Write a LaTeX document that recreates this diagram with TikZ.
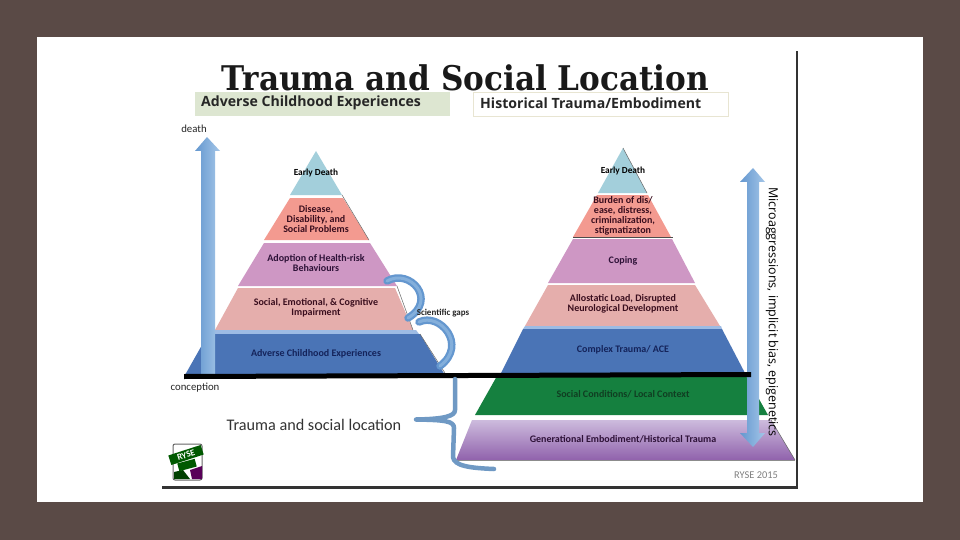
\documentclass[tikz,border=0pt]{standalone}
\usepackage{fontspec}
\setmainfont{Carlito}
\newfontfamily\titlefont{DejaVu Serif}
\newfontfamily\sidefont{Open Sans}
\usetikzlibrary{calc}
\definecolor{bgbrown}{HTML}{5A4A46}
\definecolor{lteal}{HTML}{A3CFDB}
\definecolor{lsalmon}{HTML}{F39A90}
\definecolor{lorchid}{HTML}{CE97C4}
\definecolor{lrose}{HTML}{E5AEAC}
\definecolor{lblue}{HTML}{4A74B6}
\definecolor{lstripe}{HTML}{9DBBE4}
\definecolor{lgreen}{HTML}{15803F}
\definecolor{purtop}{HTML}{CDBBDD}
\definecolor{purbot}{HTML}{9062AC}
\definecolor{arrowd}{HTML}{6497CF}
\definecolor{arrowl}{HTML}{A4C6E8}
\definecolor{bracec}{HTML}{6F99C4}
\definecolor{hdrg}{HTML}{DDE6D1}
\definecolor{hdrb}{HTML}{E8E5D2}
\definecolor{inkm}{HTML}{3A0E1E}
\definecolor{inkp}{HTML}{2E1238}
\definecolor{inkn}{HTML}{14235A}
\definecolor{inkg}{HTML}{103E22}
\definecolor{frame}{HTML}{333333}
\tikzset{
  lbl/.style={align=center,inner sep=0pt,font=\bfseries\fontsize{10}{10.1}\selectfont},
  lblm/.style={lbl,text=inkm},
  lblp/.style={lbl,text=inkp},
  lbln/.style={lbl,text=inkn},
  lblg/.style={lbl,text=inkg},
  small/.style={inner sep=0pt,text=black!85,font=\fontsize{10.8}{12}\selectfont},
  hdr/.style={inner sep=0pt,anchor=west,text=black!85,font=\sidefont\bfseries\fontsize{14.1}{16}\selectfont},
  gapline/.style={line cap=round,line width=7.5pt,draw=arrowd},
  gapinner/.style={line cap=round,line width=3pt,draw=arrowl!50!arrowd},
  bracel/.style={line width=4.5pt,draw=bracec,line cap=round,line join=round},
}
\begin{document}
\begin{tikzpicture}[x=1pt,y=-1pt]
\useasboundingbox (0,0) rectangle (960,540);
\fill[bgbrown] (0,0) rectangle (960,540);
\fill[white] (37,37) rectangle (923,502);
% inner frame
\fill[frame] (796,51) rectangle (798,489);
\fill[frame] (162,486) rectangle (798,489);
% title and headers
\node[inner sep=0pt,anchor=base,text=black!90] (title) at (465.5,91) {\titlefont\bfseries\fontsize{34}{36}\selectfont\scalebox{0.915}[1]{Trauma and Social Location}};
\fill[hdrg] (195,92) rectangle (450,116);
\fill[white,draw=hdrb,line width=.8pt] (473,92) rectangle (728,116);
\node[hdr] (hl) at (201,103) {Adverse Childhood Experiences};
\node[hdr] (hr) at (480,103) {Historical Trauma/Embodiment};
% left pyramid
\fill[lteal] (316,151) -- (342,195) -- (290,195) -- cycle;
\fill[lsalmon] (290,198) -- (343,198) -- (369,240) -- (264,240) -- cycle;
\fill[lorchid] (264,243) -- (370,243) -- (397,286) -- (238,286) -- cycle;
\fill[lrose] (238,288) -- (395,288) -- (413,330) -- (215,330) -- cycle;
\fill[lstripe] (215,330) -- (416,330) -- (419,334) -- (215,334) -- cycle;
\fill[lblue] (215,334) -- (420,334) -- (445,375) -- (185,375) -- (202,345) -- cycle;
\draw[black!60,line width=.5pt] (342,195) -- (369,240) (397,286) -- (413,330) (420,334) -- (445,373);
% right pyramid
\fill[lteal] (623,148) -- (647,193) -- (598,193) -- cycle;
\draw[black!60,line width=.5pt] (623,148) -- (647,193);
\fill[lsalmon] (597,195) -- (648,195) -- (671,237) -- (573,237) -- cycle;
\draw[black!70,line width=.6pt] (573,237.5) -- (673,237.5);
\fill[lorchid] (573,239) -- (672,239) -- (695,283) -- (548,283) -- cycle;
\fill[lrose] (548,285) -- (695,285) -- (720,326) -- (525,326) -- cycle;
\fill[lstripe] (525,326) -- (721,326) -- (722,329) -- (523,329) -- cycle;
\fill[lblue] (523,329) -- (722,329) -- (746,375) -- (500,375) -- cycle;
\fill[lgreen] (497,376) -- (746,376) -- (768,415) -- (475,415) -- cycle;
\shade[top color=purtop,bottom color=purbot] (472,420) -- (771,420) -- (795,460) -- (456,460) -- cycle;
\draw[black!60,line width=.5pt] (771,420) -- (795,460);
\draw[black!45,line width=.8pt] (456,460.5) -- (795,460.5);
% arrows
\shade[left color=arrowd,right color=arrowl] (201,375) -- (201,151) -- (195,151) -- (207,137) -- (220,151) -- (215,151) -- (215,375) -- cycle;
\shade[left color=arrowd,right color=arrowl] (747,182) -- (740,182) -- (753,168) -- (765,182) -- (759,182) -- (759,433) -- (765,433) -- (753,447) -- (740,433) -- (747,433) -- cycle;
% baseline
\fill[black] (184,374) -- (751,372) -- (751,377) -- (184,379) -- cycle;
% scientific gaps arcs
\coordinate (g1a) at (387,281);
\coordinate (g1b) at (408,318);
\coordinate (g2a) at (419,322);
\coordinate (g2b) at (440,366);
\draw[gapline] (g1a) .. controls (410,268) and (438,300) .. (g1b);
\draw[gapinner] (g1a) .. controls (410,268) and (438,300) .. (g1b);
\draw[gapline] (g2a) .. controls (440,312) and (468,345) .. (g2b);
\draw[gapinner] (g2a) .. controls (440,312) and (468,345) .. (g2b);
% brace
\coordinate (btop) at (455,379);
\coordinate (btip) at (416,419.5);
\coordinate (bend) at (494,469);
\draw[bracel] (btop) -- (455,410) .. controls (455,416) and (445,419) .. (btip)
  .. controls (445,420) and (454,421) .. (454,428) -- (453,457) .. controls (454,466) and (470,468) .. (bend);
% pyramid labels
\node[lbl,font=\bfseries\fontsize{9.3}{10}\selectfont] (l1) at (316,173) {Early Death};
\node[lblm] (l2) at (316,219) {Disease,\\Disability, and\\Social Problems};
\node[lblp] (l3) at (316,263) {Adoption of Health-risk\\Behaviours};
\node[lblm] (l4) at (316,308) {Social, Emotional, \& Cognitive\\Impairment};
\node[lbln] (l5) at (316,354) {Adverse Childhood Experiences};
\node[lbl,font=\bfseries\fontsize{9.3}{10}\selectfont] (r1) at (623,171) {Early Death};
\node[lblm] (r2) at (623,216) {Burden of dis/\\ease, distress,\\criminalization,\\stigmatizaton};
\node[lblp] (r3) at (623,261) {Coping};
\node[lblm] (r4) at (623,304) {Allostatic Load, Disrupted\\Neurological Development};
\node[lbln] (r5) at (623,350) {Complex Trauma/ ACE};
\node[lblg] (r6) at (623,394) {Social Conditions/ Local Context};
\node[lblp] (r7) at (623,439) {Generational Embodiment/Historical Trauma};
% free labels
\node[small] (death) at (194,129) {death};
\node[small] (conc) at (195,388) {conception};
\node[small,font=\bfseries\fontsize{9}{10}\selectfont] (gaps) at (443,313) {Scientific gaps};
\node[inner sep=0pt,text=black!80,font=\fontsize{16.2}{18}\selectfont] (tsl) at (314,425) {Trauma and social location};
\node[inner sep=0pt,text=black!50,font=\fontsize{10.4}{12}\selectfont] (ryse) at (756,475) {RYSE 2015};
\node[inner sep=0pt,rotate=-90,text=black,font=\sidefont\fontsize{12.5}{14}\selectfont] (micro) at (772,312) {Microaggressions, implicit bias, epigenetics};
% logo
\fill[white,draw=black!60,line width=1pt,rounded corners=2pt] (173,444) rectangle (202,480);
\fill[violet!70!black] (190,470) -- (202,466) -- (202,479) -- (192,479) -- cycle;
\fill[green!25!black] (174,479) -- (174,472) -- (183,470) -- (190,479) -- cycle;
\node[rotate=18,fill=green!35!black,text=white,inner sep=1pt,minimum width=34pt,minimum height=10pt,font=\bfseries\fontsize{9}{9}\selectfont] (logo1) at (186,455) {RYSE};
\node[rotate=15,fill=green!35!black,minimum width=18pt,minimum height=8pt,inner sep=0pt] (logo2) at (187,465) {};
\end{tikzpicture}
\end{document}
